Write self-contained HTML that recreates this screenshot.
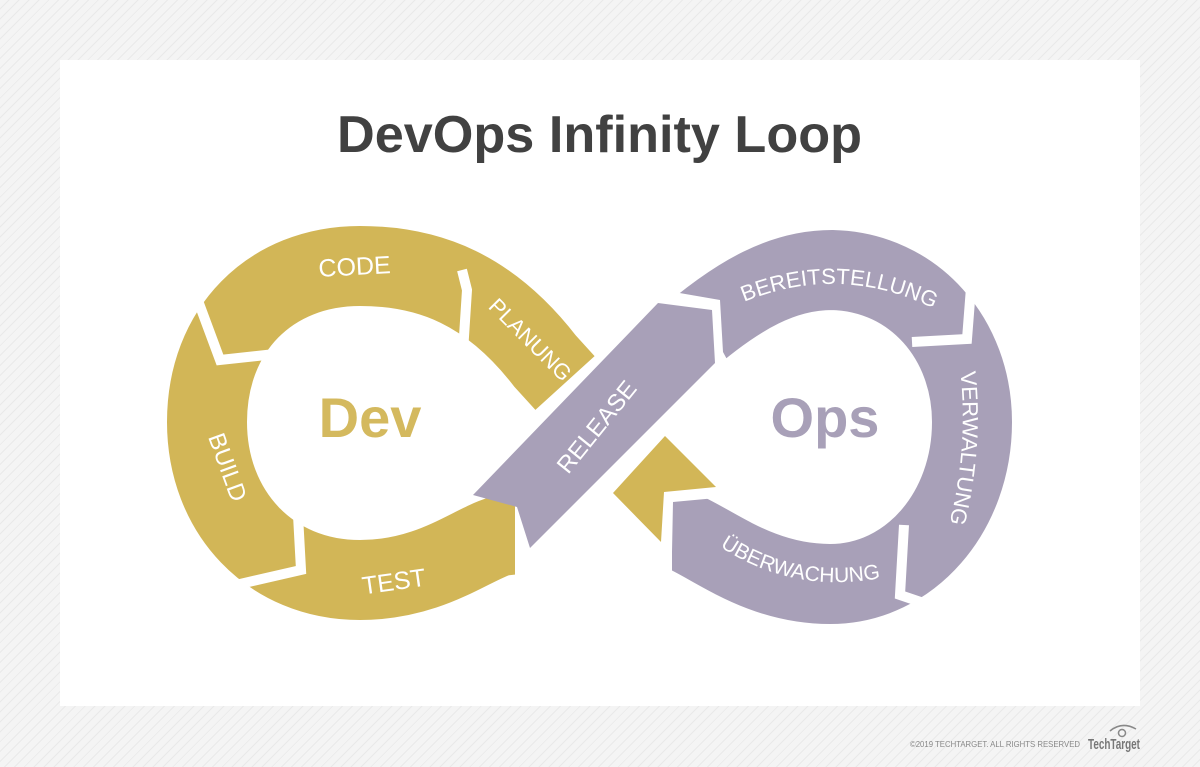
<!DOCTYPE html>
<html><head><meta charset="utf-8"><style>
html,body{margin:0;padding:0}
body{width:1200px;height:767px;overflow:hidden;background:#f1f1f1;background-image:repeating-linear-gradient(135deg,#f4f4f4 0 6px,#e9e9e9 6px 7px);font-family:"Liberation Sans",sans-serif;position:relative}
.card{position:absolute;left:60px;top:60px;width:1080px;height:646px;background:#fff}
</style></head><body>
<div class="card"></div>
<svg width="1200" height="767" style="position:absolute;left:0;top:0" xmlns="http://www.w3.org/2000/svg">
<text x="337" y="152" textLength="525" lengthAdjust="spacingAndGlyphs" font-family="Liberation Sans, sans-serif" font-weight="bold" font-size="52" fill="#414141">DevOps Infinity Loop</text>
<g fill="none" stroke-linecap="butt">
<path d="M 565,383 L 545,361 C 490,290 430,266 360,266 C 270,266 207,330 207,422 C 207,512 270,580 360,580 C 430,580 470,545 500,536 L 518,534" stroke="#d2b657" stroke-width="80"/>
<path d="M 680,345 C 740,292 785,270 832,270 C 915,272 972,340 972,422 C 972,512 910,584 830,584 C 760,584 715,545 680,530 L 630,527" stroke="#a8a0b8" stroke-width="80"/>
</g>
<polygon points="630,240 668,291 720,300 723,352 760,420 620,420" fill="#fff"/>
<polygon points="600,455 760,455 727,497 673,502 672,552 672,620 600,620" fill="#fff"/>
<g fill="none" stroke="#fff" stroke-width="10" stroke-linejoin="miter">
<polyline points="197,298 220,360 275,354"/>
<polyline points="462,270 467,290 463,352"/>
<polyline points="240,584 301,570 298,515"/>
<polyline points="520,500 520,575"/>
<polyline points="973,262 967,339 912,342"/>
<polyline points="904,525 900,595 950,612"/>
</g>
<polygon points="473,495 658,303 712,310 715,363 530,548 517,507" fill="#a8a0b8"/>
<polygon points="665,436 716,487 664,492 661,542 613,493" fill="#d2b657"/>
<g font-family="Liberation Sans, sans-serif" fill="#fff" font-size="25">
<text x="355" y="275" text-anchor="middle" transform="rotate(-3 355 275)">CODE</text>
<text x="525" y="345" text-anchor="middle" font-size="22" transform="rotate(45 525 345)">PLANUNG</text>
<text x="220" y="470" text-anchor="middle" font-size="24" transform="rotate(70 220 470)">BUILD</text>
<text x="395" y="590" text-anchor="middle" transform="rotate(-8 395 590)">TEST</text>
<text x="603" y="432" text-anchor="middle" font-size="24" transform="rotate(-51 603 432)">RELEASE</text>
<path id="p1" d="M 722,312 Q 840,252 955,320" fill="none"/>
<text font-size="22"><textPath href="#p1" startOffset="50%" text-anchor="middle">BEREITSTELLUNG</textPath></text>
<path id="p2" d="M 958,355 Q 972,445 945,540" fill="none"/>
<text font-size="22"><textPath href="#p2" startOffset="50%" text-anchor="middle">VERWALTUNG</textPath></text>
<path id="p3" d="M 708,538 Q 790,600 895,575" fill="none"/>
<text font-size="21"><textPath href="#p3" startOffset="50%" text-anchor="middle">ÜBERWACHUNG</textPath></text>
</g>
<text x="370" y="437" text-anchor="middle" font-family="Liberation Sans, sans-serif" font-weight="bold" font-size="56" fill="#d4b95e">Dev</text>
<text x="825" y="437" text-anchor="middle" font-family="Liberation Sans, sans-serif" font-weight="bold" font-size="56" fill="#a8a0b8">Ops</text>
<text x="910" y="747" textLength="170" lengthAdjust="spacingAndGlyphs" font-family="Liberation Sans, sans-serif" font-size="8.5" fill="#888">©2019 TECHTARGET. ALL RIGHTS RESERVED</text>
<text x="1088" y="749" textLength="52" lengthAdjust="spacingAndGlyphs" font-family="Liberation Sans, sans-serif" font-weight="bold" font-size="15" fill="#777">TechTarget</text>
<path d="M 1110,731 Q 1122,721 1136,729" fill="none" stroke="#888" stroke-width="1.5"/>
<circle cx="1122" cy="733" r="3.5" fill="none" stroke="#888" stroke-width="1.5"/>
</svg>
</body></html>
